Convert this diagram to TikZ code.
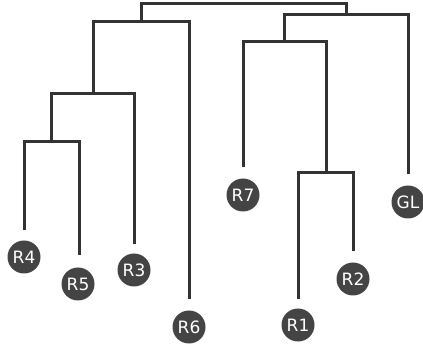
\documentclass[tikz,border=0pt]{standalone}
\usepackage{fontspec}
\setmainfont{DejaVu Sans}
\definecolor{linec}{HTML}{333333}
\definecolor{leafc}{HTML}{444444}
\begin{document}
\begin{tikzpicture}[x=1pt,y=-1pt,
  branch/.style={draw=linec,line width=3pt,line join=miter},
  leaf/.style={circle,fill=leafc,minimum size=33pt,inner sep=0pt,text=white,font=\fontsize{17}{17}\selectfont}]
\useasboundingbox (0,0) rectangle (423,347);
% leaves
\node[leaf] (R4) at (24,257) {R4};
\node[leaf] (R5) at (78,284) {R5};
\node[leaf] (R3) at (134,270) {R3};
\node[leaf] (R6) at (189,327) {R6};
\node[leaf] (R7) at (243,195) {R7};
\node[leaf] (GL) at (408,202) {GL};
\node[leaf] (R1) at (298,325) {R1};
\node[leaf] (R2) at (353,279) {R2};
% line ends above leaves
\coordinate (e4) at (24,230);
\coordinate (e5) at (79,255);
\coordinate (e3) at (134,244);
\coordinate (e6) at (189,299);
\coordinate (e7) at (243,167);
\coordinate (eG) at (408,174);
\coordinate (e1) at (298,299);
\coordinate (e2) at (353,251);
% internal junctions
\coordinate (C) at (51,142);
\coordinate (B) at (93,94);
\coordinate (A) at (141,22);
\coordinate (E) at (326,173);
\coordinate (D) at (284,42);
\coordinate (F) at (346,15);
\coordinate (rootl) at (141,4);
% brackets
\draw[branch] (e4) |- (C) -| (e5);
\draw[branch] (C) |- (B) -| (e3);
\draw[branch] (B) |- (A) -| (e6);
\draw[branch] (e1) |- (E) -| (e2);
\draw[branch] (e7) |- (D) -| (E);
\draw[branch] (D) |- (F) -| (eG);
\draw[branch] (A) -- (rootl) -| (F);
\end{tikzpicture}
\end{document}
